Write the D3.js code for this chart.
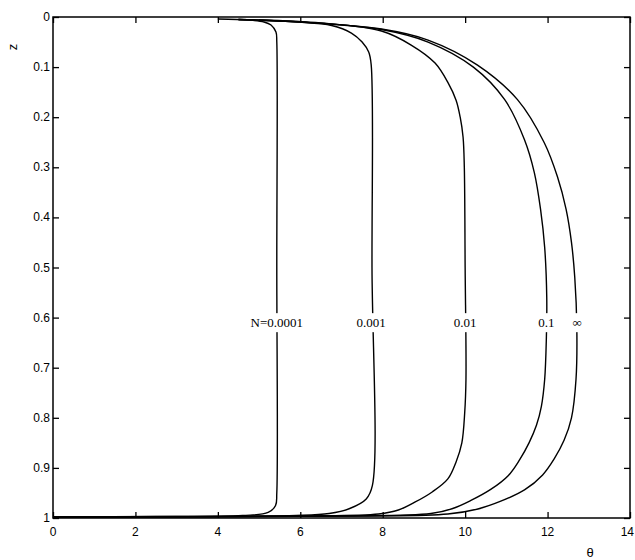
<!DOCTYPE html>
<html>
<head>
<meta charset="utf-8">
<script src="https://cdn.jsdelivr.net/npm/d3@7"></script>
<style>
  body { margin: 0; background: #fff; }
  text { font-family: "Liberation Sans", Arial, sans-serif; fill: #000; }
</style>
</head>
<body>
<script>
var WIDTH = 635, HEIGHT = 560;
var margin = {top: 17, right: 4, bottom: 40, left: 53};

// theta / z pairs, one array per N
var curve_n0001 = [[4.0,0.004],[4.75,0.006],[5.12,0.010],[5.29,0.016],[5.41,0.030],[5.43,0.05],
                   [5.43,0.5],[5.43,0.95],[5.40,0.975],[5.22,0.989],[4.6,0.995],[2.5,0.997],[0,0.998]];
var curve_n001  = [[4.5,0.005],[5.96,0.010],[6.76,0.017],[7.24,0.032],[7.50,0.050],[7.66,0.070],[7.72,0.095],
                   [7.74,0.5],[7.75,0.935],[7.60,0.962],[7.20,0.981],[6.70,0.991],[5.9,0.995],[3.0,0.997],[0,0.998]];
var curve_n01   = [[5.0,0.006],[6.5,0.012],[7.97,0.028],[8.69,0.056],[9.27,0.092],[9.59,0.132],[9.78,0.166],
                   [9.88,0.2],[9.95,0.24],[9.98,0.3],[10.0,0.5],[10.02,0.723],[9.99,0.789],[9.92,0.850],
                   [9.78,0.888],[9.58,0.922],[9.20,0.948],[8.79,0.968],[8.38,0.984],[7.9,0.992],[6.0,0.996],[0,0.998]];
var curve_n1    = [[4.5,0.005],[6.0,0.010],[7.97,0.025],[9.1,0.05],[10.2,0.10],[10.96,0.165],[11.44,0.245],
                   [11.68,0.311],[11.83,0.384],[11.93,0.46],[11.98,0.56],[11.97,0.643],[11.93,0.723],
                   [11.85,0.777],[11.73,0.815],[11.55,0.850],[11.32,0.884],[11.05,0.915],[10.62,0.943],
                   [10.14,0.965],[9.70,0.981],[9.17,0.991],[7.0,0.996],[0,0.998]];
var curve_inf   = [[4.5,0.005],[6.0,0.010],[7.97,0.024],[9.1,0.046],[10.3,0.096],[11.27,0.165],[11.92,0.251],
                   [12.24,0.319],[12.45,0.384],[12.58,0.45],[12.66,0.52],[12.71,0.62],[12.69,0.723],
                   [12.58,0.800],[12.40,0.845],[12.16,0.882],[11.88,0.914],[11.44,0.944],[10.85,0.967],
                   [10.31,0.982],[9.58,0.992],[7.5,0.996],[0,0.998]];

var curves = [curve_n0001, curve_n001, curve_n01, curve_n1, curve_inf];
var curve_labels = ["N=0.0001", "0.001", "0.01", "0.1", "\u221e"];
var label_theta = [5.43, 7.72, 10.0, 11.97, 12.72];
var label_z = 0.61;

var x_ticks = [0, 2, 4, 6, 8, 10, 12, 14];
var y_ticks = [0, 0.1, 0.2, 0.3, 0.4, 0.5, 0.6, 0.7, 0.8, 0.9, 1];

var svg = d3.select("body").append("svg")
    .attr("width", WIDTH)
    .attr("height", HEIGHT);

var plot_w = WIDTH - margin.left - margin.right;
var plot_h = HEIGHT - margin.top - margin.bottom;

var x = d3.scaleLinear().domain([0, 14]).range([margin.left, margin.left + plot_w - 1]);
var y = d3.scaleLinear().domain([0, 1]).range([margin.top, margin.top + plot_h - 2]);

// frame
svg.append("rect")
    .attr("x", x(0)).attr("y", y(0))
    .attr("width", x(14) - x(0)).attr("height", y(1) - y(0))
    .attr("fill", "none").attr("stroke", "#000").attr("stroke-width", 1.5);

// inward ticks, all four sides
var tick_len = 6;
svg.append("g").attr("transform", "translate(0," + y(1) + ")")
    .call(d3.axisTop(x).tickValues(x_ticks).tickSize(tick_len).tickFormat(""))
    .call(function(g) { g.select(".domain").remove(); });
svg.append("g").attr("transform", "translate(0," + y(0) + ")")
    .call(d3.axisBottom(x).tickValues(x_ticks).tickSize(tick_len).tickFormat(""))
    .call(function(g) { g.select(".domain").remove(); });
svg.append("g").attr("transform", "translate(" + x(0) + ",0)")
    .call(d3.axisRight(y).tickValues(y_ticks).tickSize(tick_len).tickFormat(""))
    .call(function(g) { g.select(".domain").remove(); });
svg.append("g").attr("transform", "translate(" + x(14) + ",0)")
    .call(d3.axisLeft(y).tickValues(y_ticks).tickSize(tick_len).tickFormat(""))
    .call(function(g) { g.select(".domain").remove(); });
svg.selectAll(".tick line").attr("stroke-width", 1.3);

// tick labels
svg.append("g").selectAll("text")
    .data(x_ticks).enter()
  .append("text")
    .attr("x", function(d) { return d === 14 ? WIDTH - 1 : x(d); })
    .attr("y", y(1) + 18)
    .attr("text-anchor", function(d) { return d === 14 ? "end" : "middle"; })
    .style("font-size", "12px")
    .text(function(d) { return d; });

svg.append("g").selectAll("text")
    .data(y_ticks).enter()
  .append("text")
    .attr("x", x(0) - 3)
    .attr("y", function(d) { return y(d) + 4; })
    .attr("text-anchor", "end")
    .style("font-size", "12px")
    .text(function(d) { return d; });

// axis titles
svg.append("text")
    .attr("transform", "translate(17,47) rotate(-90)")
    .attr("text-anchor", "middle")
    .style("font-size", "13px")
    .text("z");
svg.append("text")
    .attr("x", 590).attr("y", 557)
    .attr("text-anchor", "middle")
    .style("font-size", "13px")
    .text("\u03b8");

// curves
var line = d3.line()
    .x(function(d) { return x(d[0]); })
    .y(function(d) { return y(d[1]); })
    .curve(d3.curveCatmullRom.alpha(0.5));

svg.append("g").selectAll("path")
    .data(curves).enter()
  .append("path")
    .attr("d", line)
    .attr("fill", "none")
    .attr("stroke", "#000")
    .attr("stroke-width", 1.4);

// in-line labels with white backing
var lab = svg.append("g").selectAll("g")
    .data(curve_labels).enter()
  .append("g")
    .attr("transform", function(d, i) {
      return "translate(" + x(label_theta[i]) + "," + y(label_z) + ")";
    });
lab.append("text")
    .attr("text-anchor", "middle")
    .attr("dy", "0.35em")
    .style("font-family", "'Liberation Serif', serif")
    .style("font-size", "13px")
    .text(function(d) { return d; });
lab.each(function() {
  var g = d3.select(this);
  var bb = g.select("text").node().getBBox();
  g.insert("rect", "text")
    .attr("x", bb.x - 1).attr("y", bb.y - 2)
    .attr("width", bb.width + 2).attr("height", bb.height + 4)
    .attr("fill", "#fff");
});
</script>
</body>
</html>
